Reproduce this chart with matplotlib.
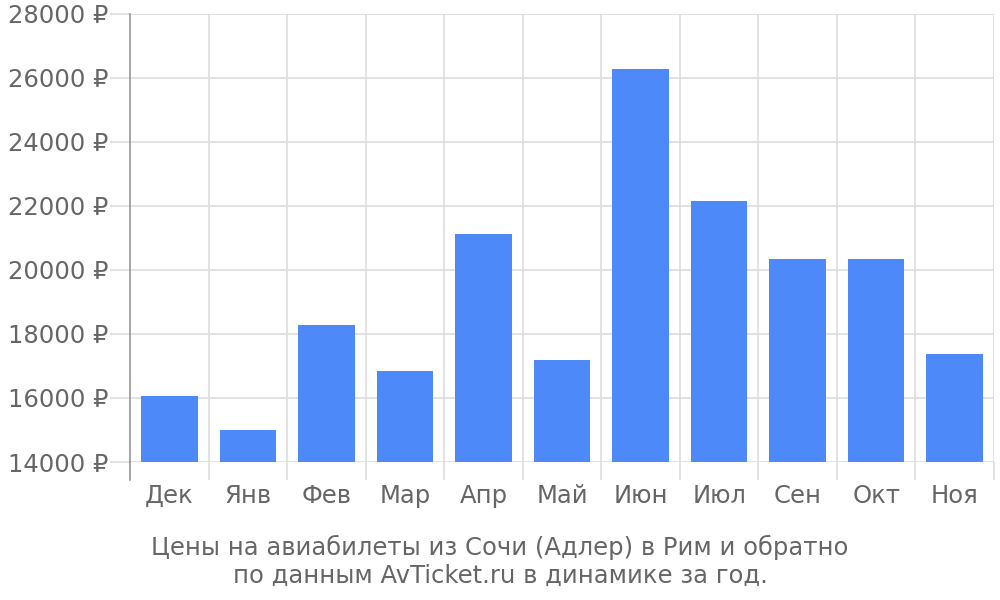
import matplotlib
matplotlib.use('Agg')
import matplotlib.pyplot as plt
import numpy as np

# данные: цены по месяцам (руб.)
months = ['Дек', 'Янв', 'Фев', 'Мар', 'Апр', 'Май', 'Июн', 'Июл', 'Сен', 'Окт', 'Ноя']
prices = [16050, 15000, 18280, 16840, 21130, 17190, 26290, 22150, 20330, 20340, 17370]
yticks = [14000, 16000, 18000, 20000, 22000, 24000, 26000, 28000]
caption = 'Цены на авиабилеты из Сочи (Адлер) в Рим и обратно\nпо данным AvTicket.ru в динамике за год.'

text_col = '#666666'
grid_col = '#dddddd'
axis_col = '#999999'
fs = 17.5

fig = plt.figure(figsize=(10, 6), dpi=100)
ax = fig.add_axes([0.130, 0.230, 0.864, 0.747])

x = np.arange(len(months))
ax.bar(x, prices, width=0.72, color='#4d89f9', zorder=3)

ax.set_xlim(-0.5, len(months) - 0.5)
ax.set_ylim(yticks[0], yticks[-1])

# горизонтальная сетка + метки слева
ax.set_yticks(yticks)
ax.set_yticklabels([f'{v} ₽' for v in yticks])
ax.yaxis.grid(True, color=grid_col, lw=1.2, zorder=0)
ax.tick_params(axis='y', length=14.4, width=1.2, color=grid_col, pad=1,
               labelsize=fs, labelcolor=text_col)

# вертикальные линии между месяцами
ax.set_xticks(x)
ax.set_xticklabels(months)
ax.set_xticks(np.arange(len(months) + 1) - 0.5, minor=True)
ax.xaxis.grid(True, which='minor', color=grid_col, lw=1.2, zorder=0)
ax.tick_params(axis='x', which='minor', length=13, width=1.2, color=grid_col)
ax.tick_params(axis='x', which='major', length=0, pad=16,
               labelsize=fs, labelcolor=text_col)

for s in ['top', 'right', 'bottom']:
    ax.spines[s].set_visible(False)
ax.spines['left'].set_color(axis_col)
ax.spines['left'].set_linewidth(1.2)
ax.spines['left'].set_zorder(4)
# левая ось уходит немного ниже
ax.plot([-0.5, -0.5], [yticks[0], yticks[0] - 560], color=axis_col, lw=1.2,
        clip_on=False, zorder=4)

fig.text(0.5, 0.02, caption, ha='center', va='bottom', fontsize=fs,
         color=text_col, linespacing=1.2)

fig.savefig('out.png', dpi=100)
